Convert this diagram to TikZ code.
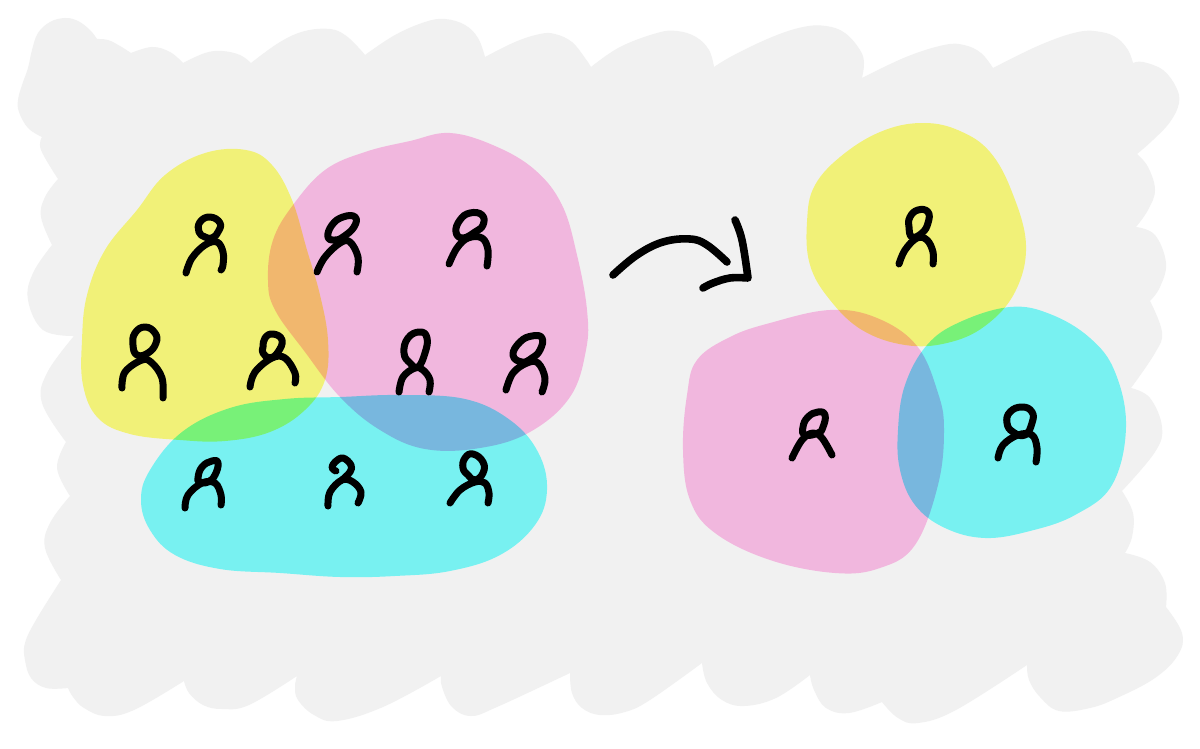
\documentclass[tikz,border=0pt]{standalone}
\definecolor{paper}{HTML}{F1F1F1}
\definecolor{hiyellow}{RGB}{255,255,128}
\definecolor{hipink}{RGB}{255,194,235}
\definecolor{hicyan}{RGB}{128,255,255}
\tikzset{
  lobe/.style={smooth,tension=0.65},
  blob/.style={smooth cycle,tension=0.65},
  headloop/.style={smooth cycle,tension=0.8},
  ink/.style={draw=black,line width=7pt,line cap=round,line join=round},
  penarrow/.style={draw=black,line width=7.6pt,line cap=round,line join=round}
}
\newcommand{\inkperson}[2]{%
  \draw[ink] plot[headloop] coordinates {#1};
  \draw[ink] plot[lobe] coordinates {#2};
}
\begin{document}
\begin{tikzpicture}[x=1pt,y=-1pt]
\useasboundingbox (0,0) rectangle (1200,749);
\fill[white] (0,0) rectangle (1200,749);
% grey scribble background
\fill[paper]
 plot[lobe] coordinates {(42,137)(28,128)(19,112)(18,100)(22,85)(28,68)(32,50)(38,33)(50,22)(65,18)(78,21)(90,30)(97,39)}
 -- plot[lobe] coordinates {(97,39)(108,40)(120,46)(131,53)}
 -- plot[lobe] coordinates {(131,53)(152,47)(170,52)(183,63)}
 -- plot[lobe] coordinates {(183,63)(205,53)(222,51)(240,55)(251,63)}
 -- plot[lobe] coordinates {(251,63)(280,42)(305,31)(330,29)(345,35)(358,47)(365,55)}
 -- plot[lobe] coordinates {(365,55)(395,35)(425,22)(445,19)(465,25)(478,38)(485,57)}
 -- plot[lobe] coordinates {(485,57)(515,42)(540,34)(555,34)(572,42)(585,58)(591,67)}
 -- plot[lobe] coordinates {(591,67)(620,47)(657,33)(677,31)(696,37)(709,50)(714,67)}
 -- plot[lobe] coordinates {(714,67)(734,55)(772,37)(803,27)(826,26)(845,33)(860,50)(864,63)(862,78)}
 -- plot[lobe] coordinates {(862,78)(906,57)(944,45)(964,45)(981,53)(993,68)}
 -- plot[lobe] coordinates {(993,68)(1040,45)(1078,32)(1101,32)(1117,38)(1128,50)(1133,63)}
 -- plot[lobe] coordinates {(1133,63)(1143,62)(1163,70)(1176,87)(1179,103)(1170,122)(1153,140)(1137,154)}
 -- plot[lobe] coordinates {(1137,154)(1148,167)(1155,190)(1148,210)(1136,227)}
 -- plot[lobe] coordinates {(1136,227)(1155,235)(1166,263)(1160,287)(1150,301)}
 -- plot[lobe] coordinates {(1150,301)(1162,332)(1155,353)(1131,388)}
 -- plot[lobe] coordinates {(1131,388)(1150,398)(1162,427)(1155,452)(1122,491)}
 -- plot[lobe] coordinates {(1122,491)(1133,513)(1132,537)(1125,553)}
 -- plot[lobe] coordinates {(1125,553)(1150,562)(1165,583)(1166,607)}
 -- plot[lobe] coordinates {(1166,607)(1182,633)(1178,655)(1155,678)(1117,698)(1090,708)(1059,711)(1040,697)(1029,680)(1027,665)}
 -- plot[lobe] coordinates {(1027,665)(956,710)(918,723)(898,718)(882,702)}
 -- plot[lobe] coordinates {(882,702)(849,713)(826,708)(814,690)(810,675)}
 -- plot[lobe] coordinates {(810,675)(776,698)(744,706)(722,700)(707,683)(702,663)}
 -- plot[lobe] coordinates {(702,663)(650,700)(625,712)(600,715)(582,708)(572,693)(570,673)}
 -- plot[lobe] coordinates {(570,673)(497,707)(471,716)(452,707)(442,687)(441,676)}
 -- plot[lobe] coordinates {(441,676)(383,707)(337,721)(314,715)(298,700)(295,687)(297,676)}
 -- plot[lobe] coordinates {(297,676)(249,705)(222,709)(203,705)(189,693)(184,681)}
 -- plot[lobe] coordinates {(184,681)(134,710)(105,716)(84,708)(73,697)(68,688)}
 -- plot[lobe] coordinates {(68,688)(46,688)(31,678)(25,660)(25,643)(36,620)(61,580)}
 -- plot[lobe] coordinates {(61,580)(45,548)(50,523)(70,496)}
 -- plot[lobe] coordinates {(70,496)(57,468)(66,442)}
 -- plot[lobe] coordinates {(66,442)(42,403)(47,373)(74,336)}
 -- plot[lobe] coordinates {(74,336)(43,330)(28,300)(33,273)(52,245)}
 -- plot[lobe] coordinates {(52,245)(41,217)(45,197)(58,179)}
 -- plot[lobe] coordinates {(58,179)(41,150)(42,137)}
 -- cycle;
% highlighter shapes
\begin{scope}[blend mode=multiply]
\fill[hiyellow] plot[blob] coordinates {(246,150)(272,165)(292,200)(307,250)(320,295)(328,340)(325,380)(305,410)(270,432)(225,441)(180,440)(130,434)(98,418)(83,385)(82,340)(87,295)(105,250)(137,210)(165,175)(205,153)};
\fill[hipink] plot[blob] coordinates {(450,133)(495,146)(535,170)(562,205)(577,255)(587,310)(586,350)(570,397)(530,432)(480,448)(425,449)(380,430)(340,397)(305,352)(275,310)(268,280)(273,240)(293,205)(325,170)(365,152)(410,141)};
\fill[hicyan] plot[blob] coordinates {(141,500)(150,470)(182,432)(230,408)(285,399)(340,397)(400,395)(465,399)(510,420)(538,452)(547,490)(535,525)(500,555)(450,571)(395,576)(340,577)(280,573)(220,569)(175,555)(150,530)};
\fill[hiyellow] plot[blob] coordinates {(925,123)(960,131)(990,152)(1012,192)(1026,245)(1015,292)(985,326)(947,343)(905,345)(862,330)(830,300)(810,265)(807,222)(815,185)(845,153)(885,130)};
\fill[hipink] plot[blob] coordinates {(770,323)(830,310)(877,318)(917,346)(938,393)(944,430)(938,485)(915,545)(880,568)(835,573)(770,560)(715,533)(690,500)(683,450)(687,395)(697,360)(730,337)};
\fill[hicyan] plot[blob] coordinates {(927,345)(960,322)(1010,307)(1050,314)(1090,338)(1115,372)(1126,427)(1112,485)(1075,515)(1030,531)(985,538)(945,528)(915,505)(900,470)(898,430)(905,385)};
\end{scope}
% people, left group
\inkperson{(199,232)(200,222)(210,217)(220,223)(218,232)(212,238)(205,237)}{(186,273)(192,258)(205,245)(217,242)(223,252)(223,265)(221,270)}
\inkperson{(133,345)(135,333)(145,327)(155,333)(156,343)(148,353)(137,355)}{(122,388)(125,372)(142,360)(152,363)(162,378)(163,398)}
\inkperson{(263,347)(265,338)(273,334)(282,340)(278,352)(270,358)(263,353)}{(250,387)(255,372)(272,358)(285,358)(295,373)(295,383)}
\inkperson{(328,237)(332,225)(343,217)(355,217)(354,227)(343,237)(335,240)}{(317,272)(325,257)(340,243)(350,242)(358,257)(357,272)}
\inkperson{(456,232)(460,220)(470,213)(482,215)(483,225)(475,232)(463,238)}{(449,264)(457,248)(468,238)(482,238)(488,250)(487,266)}
\inkperson{(404,353)(408,338)(420,332)(427,338)(425,353)(418,367)(410,363)}{(399,392)(403,377)(415,368)(423,370)(430,380)(429,392)}
\inkperson{(513,355)(520,342)(532,336)(542,338)(540,350)(532,358)(522,362)}{(506,390)(513,373)(527,363)(538,363)(545,378)(542,392)}
\inkperson{(198,478)(202,467)(212,461)(218,463)(215,475)(208,482)(200,482)}{(185,508)(188,495)(202,483)(215,483)(221,495)(221,505)}
\draw[ink] plot[lobe] coordinates {(336,471)(332,468)(335,462)(343,458)(351,465)(350,472)(342,480)};
\draw[ink] plot[lobe] coordinates {(328,506)(330,492)(342,480)(353,482)(361,492)(358,503)};
\inkperson{(463,468)(465,458)(473,454)(483,462)(483,473)(475,480)(468,475)}{(450,503)(460,490)(475,482)(485,483)(489,493)(488,503)}
% people, right group
\inkperson{(909,227)(910,217)(918,210)(928,212)(928,223)(922,233)(912,237)}{(899,264)(905,250)(917,238)(927,240)(933,252)(933,264)}
\inkperson{(803,427)(808,417)(818,412)(825,415)(823,427)(818,433)(805,435)}{(792,458)(802,440)(813,433)(822,438)(832,455)}
\inkperson{(1007,423)(1010,412)(1022,407)(1032,412)(1032,423)(1025,435)(1013,432)}{(998,458)(1003,445)(1018,435)(1032,435)(1037,448)(1036,462)}
% arrow
\draw[penarrow] plot[lobe] coordinates {(613,275)(637,255)(663,242)(690,239)(707,245)(727,262)};
\draw[penarrow] plot[lobe] coordinates {(735,220)(742,240)(748,278)} -- plot[lobe] coordinates {(748,278)(730,278)(713,283)(703,288)};
\end{tikzpicture}
\end{document}
